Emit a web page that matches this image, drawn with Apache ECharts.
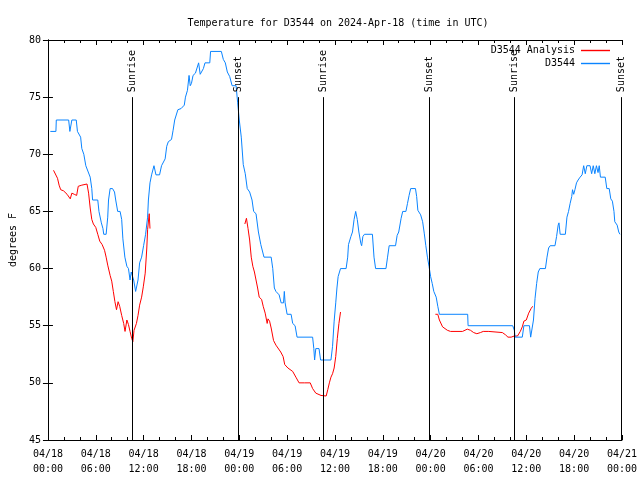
<!DOCTYPE html>
<html>
<head>
<meta charset="utf-8">
<script src="https://cdn.jsdelivr.net/npm/echarts@6/dist/echarts.min.js"></script>
<style>html,body{margin:0;padding:0;background:#fff;}#c{width:640px;height:480px;}</style>
</head>
<body>
<div id="c"></div>
<script>
// time in hours since 04/18 00:00 UTC
var xTickLabels = ['04/18\n00:00','04/18\n06:00','04/18\n12:00','04/18\n18:00','04/19\n00:00','04/19\n06:00','04/19\n12:00','04/19\n18:00','04/20\n00:00','04/20\n06:00','04/20\n12:00','04/20\n18:00','04/21\n00:00'];

var obsTimes = [0.3,1.0,1.05,2.6,2.75,2.85,3.0,3.55,3.7,4.1,4.25,4.5,4.75,5.0,5.3,5.5,5.6,6.25,6.4,6.7,6.9,7.0,7.3,7.5,7.6,7.8,8.1,8.35,8.5,8.75,9.05,9.25,9.4,9.65,9.9,10.1,10.3,10.45,10.6,10.75,10.95,11.0,11.2,11.3,11.5,11.75,12.0,12.25,12.5,12.6,12.8,13.0,13.3,13.55,14.0,14.25,14.7,14.9,15.1,15.5,15.7,15.9,16.3,16.7,17.1,17.25,17.5,17.7,17.85,18.0,18.2,18.5,18.75,18.9,19.1,19.3,19.5,19.7,20.3,20.4,21.75,22.0,22.25,22.5,22.8,23.1,23.6,23.8,24.0,24.25,24.5,24.75,25.0,25.3,25.6,25.8,26.1,26.4,26.7,27.1,28.0,28.2,28.4,28.6,29.0,29.25,29.55,29.65,29.75,30.0,30.5,30.7,31.0,31.25,33.2,33.35,33.45,33.6,34.0,34.2,35.5,35.7,35.9,36.1,36.25,36.4,36.7,37.4,37.6,37.7,38.0,38.2,38.4,38.6,38.8,39.0,39.25,39.35,39.5,39.7,40.7,40.9,41.1,42.4,42.6,42.8,43.6,43.8,44.0,44.3,44.5,44.9,45.1,45.3,45.5,46.1,46.25,46.4,46.75,47.0,47.2,47.4,47.6,47.8,48.0,48.2,48.4,48.7,48.9,49.1,52.65,52.7,58.3,58.5,58.6,59.5,59.7,60.4,60.55,60.8,60.9,61.1,61.3,61.5,61.7,62.4,62.6,62.8,63.0,63.6,63.8,64.0,64.1,64.25,64.9,65.1,65.3,65.5,65.7,65.8,65.95,66.1,66.3,66.5,66.75,67.0,67.2,67.4,67.6,68.0,68.2,68.4,68.6,68.8,69.0,69.15,69.3,69.9,70.1,70.4,70.6,70.8,71.0,71.1,71.4,71.6,71.75];
var obsTemps = [72,72,73,73,72,72,73,73,72,71.5,70.5,70,69,69,68,67,66,66,65,64,63.5,63,63,64.5,66,67,67,66.7,66,65,65,64.3,62.6,61,60.2,60,59,59.7,59.7,59,59,58,58,59,60.5,61,62,63,64.5,66,67.5,68.2,69,68.2,68.2,69,69.6,70.7,71.1,71.3,72.1,73,73.9,74,74.3,75,75.6,76.9,76,76.2,76.9,77.1,77.2,78,77,77,77.5,78,78,79,79,78.3,78,77.2,76.8,76,76,74.5,73,71.5,69.1,68.3,67,66.7,66,65,64.8,63.2,62.1,61,61,60,58.3,58,57.7,57,57,58,57,56,56,55.2,55,54,54,53,52,53,53,52,52,53.2,55.4,57,58.3,59.3,60,60,61,62.1,62.8,63.2,64.3,65,64.3,63.2,62.2,62,62.8,63,63,61,60,60,61,62,62,62.9,63.2,64.4,65,65,65.7,66.4,67,67,66.3,65.1,64.7,64.1,63.1,62,61,60.2,59.3,58.7,58,57.5,56.7,56,56,55,55,54.6,54,54,55,55,54,54,55.5,57.4,58.7,59.7,60,60,61,61.8,62,62,62.8,63.8,64,63,63,64.5,65,65.7,66.3,66.9,66.5,66.9,67.5,67.75,68,68.2,69,68.3,69,69,68.3,69,68.3,69,68.4,69,68,68,67,67,66.1,65.9,65,64.1,63.8,63.2,63];

var anaTimes1 = [0.7,0.9,1.2,1.4,1.6,1.96,2.4,2.8,3.0,3.3,3.6,3.8,4.25,4.9,5.1,5.3,5.5,5.7,6.0,6.25,6.5,6.8,7.1,7.3,7.5,7.8,8.0,8.2,8.4,8.6,8.8,9.0,9.25,9.5,9.67,9.9,10.1,10.3,10.5,10.65,10.8,11.1,11.3,11.5,11.75,11.96,12.2,12.4,12.5,12.7,12.8];
var anaTemps1 = [68.6,68.5,67.9,67.3,66.9,66.8,66.5,66.1,66.6,66.5,66.4,67.2,67.3,67.4,66.6,65.3,64.3,63.9,63.6,63.0,62.4,62.1,61.6,61.0,60.3,59.4,58.9,58.0,57.1,56.4,57.1,56.7,55.9,55.2,54.5,55.5,55.1,54.5,53.9,53.6,54.6,55.2,55.9,56.8,57.5,58.4,59.6,61.8,63.4,64.8,63.5];
var anaTimes2 = [24.7,24.9,25.1,25.3,25.5,25.7,25.9,26.1,26.3,26.5,26.8,27.0,27.25,27.5,27.6,27.8,28.0,28.3,28.6,28.8,29.2,29.5,29.7,30.1,30.7,31.1,31.5,32.2,32.9,33.2,33.6,34.25,34.9,35.1,35.3,35.5,35.7,35.9,36.1,36.3,36.5,36.7];
var anaTemps2 = [63.9,64.4,63.5,62.5,61.0,60.2,59.7,59.0,58.3,57.5,57.3,56.7,56.1,55.2,55.6,55.4,54.8,53.7,53.3,53.2,52.7,52.3,51.6,51.3,51.0,50.5,50.0,50.0,50.0,49.5,49.1,48.9,48.85,49.4,50.0,50.5,50.8,51.3,52.3,53.9,55.2,56.2];
var anaTimes3 = [48.6,48.9,49.1,49.5,49.7,50.1,50.5,52.0,52.6,53.0,53.4,53.8,54.25,54.6,55.3,55.5,57.0,57.4,57.7,58.1,58.5,58.9,59.25,59.5,59.7,60.0,60.3,60.6,60.8];
var anaTemps3 = [56.0,56.0,55.5,54.9,54.8,54.6,54.5,54.5,54.7,54.6,54.4,54.3,54.4,54.5,54.5,54.4,54.4,54.2,54.0,54.0,54.1,54.1,54.5,54.9,55.4,55.5,56.1,56.5,56.7];

var sunTimes = [10.625,23.875,34.5,47.875,58.5,71.875];
var sunLabels = ['Sunrise','Sunset','Sunrise','Sunset','Sunrise','Sunset'];

function pairs(ts, vs){ return ts.map(function(t,i){ return [t, vs[i]]; }); }
var anaData = pairs(anaTimes1, anaTemps1).concat([[18,'-']], pairs(anaTimes2, anaTemps2), [[42,'-']], pairs(anaTimes3, anaTemps3));
var obsData = pairs(obsTimes, obsTemps);

var FONT = 'DejaVu Sans Mono';
var mlData = [];
sunTimes.forEach(function(t, i){
  mlData.push([{coord:[t,45], label:{show:false}}, {coord:[t,75]}]);
  mlData.push([{coord:[t,75], lineStyle:{color:'rgba(0,0,0,0)'},
    label:{show:true, formatter: sunLabels[i], position:'insideStart', distance:5, color:'#000', fontFamily:FONT, fontSize:10}},
    {coord:[t,80]}]);
});

var chart = echarts.init(document.getElementById('c'), null, {renderer:'canvas'});
var xCommon = {
  type:'value', min:0, max:72, interval:6,
  axisLine:{show:true, lineStyle:{color:'#000', width:1}},
  axisTick:{show:true, inside:true, length:5, lineStyle:{color:'#000'}},
  minorTick:{show:true, splitNumber:3, length:3, lineStyle:{color:'#000'}},
  splitLine:{show:false}
};
var yCommon = {
  type:'value', min:45, max:80, interval:5,
  axisLine:{show:true, lineStyle:{color:'#000', width:1}},
  axisTick:{show:true, inside:true, length:5, lineStyle:{color:'#000'}},
  splitLine:{show:false}
};
chart.setOption({
  animation:false,
  backgroundColor:'#fff',
  title:{text:'Temperature for D3544 on 2024-Apr-18 (time in UTC)', left:333, textAlign:'center', top:13,
    textStyle:{fontFamily:FONT, fontSize:10, fontWeight:'normal', color:'#000'}},
  legend:{
    orient:'vertical', right:25, top:39, align:'right', icon:'rect', itemWidth:29, itemHeight:1.4, itemGap:0,
    textStyle:{fontFamily:FONT, fontSize:10, color:'#000', lineHeight:13, padding:[0,1,0,0]},
    data:['D3544 Analysis','D3544']
  },
  grid:{left:46, right:18, top:40, bottom:40, containLabel:false},
  xAxis:[
    Object.assign({}, xCommon, {position:'bottom',
      axisLabel:{show:true, margin:7, fontFamily:FONT, fontSize:10, color:'#000', lineHeight:15,
        formatter:function(v){ return xTickLabels[Math.round(v/6)]; }}}),
    Object.assign({}, xCommon, {position:'top', axisLabel:{show:false}})
  ],
  yAxis:[
    Object.assign({}, yCommon, {position:'left', name:'degrees F', nameLocation:'middle', nameGap:29,
      nameTextStyle:{fontFamily:FONT, fontSize:10, color:'#000'},
      axisLabel:{show:true, margin:7, fontFamily:FONT, fontSize:10, color:'#000'}}),
    Object.assign({}, yCommon, {position:'right', axisLabel:{show:false}})
  ],
  series:[
    {name:'D3544 Analysis', type:'line', data:anaData, showSymbol:false, symbol:'none', connectNulls:false,
      lineStyle:{color:'#ff0000', width:1}, itemStyle:{color:'#ff0000'}},
    {name:'D3544', type:'line', data:obsData, showSymbol:false, symbol:'none',
      lineStyle:{color:'#0a84ff', width:1}, itemStyle:{color:'#0a84ff'},
      markLine:{silent:true, symbol:['none','none'], lineStyle:{color:'#000', width:1, type:'solid'}, data:mlData}}
  ]
});
</script>
</body>
</html>
